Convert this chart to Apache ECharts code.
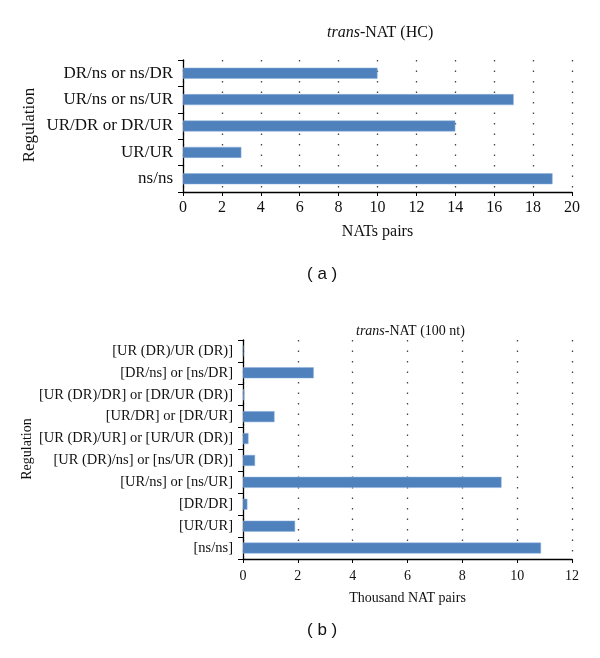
<!DOCTYPE html>
<html>
<head>
<meta charset="utf-8">
<script src="https://cdn.jsdelivr.net/npm/echarts@6/dist/echarts.min.js"></script>
<style>html,body{margin:0;padding:0;background:#fff}#c{width:600px;height:658px}</style>
</head>
<body>
<div id="c"></div>
<script>
// Panel (a): categories bottom -> top
var catsA = ['ns/ns', 'UR/UR', 'UR/DR or DR/UR', 'UR/ns or ns/UR', 'DR/ns or ns/DR'];
var valsA = [19, 3, 14, 17, 10];
var ticksA = [0, 2, 4, 6, 8, 10, 12, 14, 16, 18, 20];

// Panel (b): categories bottom -> top
var catsB = ['[ns/ns]', '[UR/UR]', '[DR/DR]', '[UR/ns] or [ns/UR]', '[UR (DR)/ns] or [ns/UR (DR)]',
  '[UR (DR)/UR] or [UR/UR (DR)]', '[UR/DR] or [DR/UR]', '[UR (DR)/DR] or [DR/UR (DR)]',
  '[DR/ns] or [ns/DR]', '[UR (DR)/UR (DR)]'];
var valsB = [10.87, 1.9, 0.16, 9.43, 0.44, 0.2, 1.15, 0.05, 2.58, 0];
var ticksB = [0, 2, 4, 6, 8, 10, 12];

var SERIF = 'Liberation Serif';
var BLUE = '#4F81BD';
var chart = echarts.init(document.getElementById('c'), null, {renderer: 'canvas'});

function xAx(idx, max, interval, name, fs, gap, margin) {
  return {
    gridIndex: idx, type: 'value', min: 0, max: max, interval: interval,
    name: name, nameLocation: 'middle', nameGap: gap,
    nameTextStyle: {fontFamily: SERIF, fontSize: fs, color: '#111'},
    axisLine: {show: true, lineStyle: {color: '#000', width: 1.3}},
    axisTick: {show: true, length: 4, lineStyle: {color: '#000'}},
    axisLabel: {fontFamily: SERIF, fontSize: fs, color: '#111', margin: margin},
    splitLine: {show: true, lineStyle: {color: '#444', width: 1.3, type: [1.5, 9]}}
  };
}
function yAx(idx, cats, fs) {
  return {
    gridIndex: idx, type: 'category', data: cats,
    axisLine: {show: true, lineStyle: {color: '#000', width: 1.3}},
    axisTick: {show: true, length: 5, lineStyle: {color: '#000'}},
    axisLabel: {fontFamily: SERIF, fontSize: fs, color: '#111', margin: 10},
    splitLine: {show: false}
  };
}

var option = {
  backgroundColor: '#fff',
  animation: false,
  title: [
    {text: '{i|trans}-NAT (HC)', left: 322, top: 20,
     textStyle: {fontFamily: SERIF, fontSize: 16, fontWeight: 'normal', color: '#111',
       rich: {i: {fontFamily: SERIF, fontSize: 16, fontStyle: 'italic', color: '#111'}}}},
    {text: '{i|trans}-NAT (100 nt)', left: 351, top: 319,
     textStyle: {fontFamily: SERIF, fontSize: 14, fontWeight: 'normal', color: '#111',
       rich: {i: {fontFamily: SERIF, fontSize: 14, fontStyle: 'italic', color: '#111'}}}}
  ],
  grid: [
    {left: 183, top: 60, width: 389, height: 132},
    {left: 243, top: 340, width: 329, height: 219}
  ],
  xAxis: [
    xAx(0, 20, 2, 'NATs pairs', 16, 32, 8),
    xAx(1, 12, 2, 'Thousand NAT pairs', 14, 32, 10)
  ],
  yAxis: [
    yAx(0, catsA, 17),
    yAx(1, catsB, 14.5)
  ],
  series: [
    {type: 'bar', xAxisIndex: 0, yAxisIndex: 0, data: valsA, barWidth: 11,
     itemStyle: {color: BLUE, borderColor: '#8fb3e0', borderWidth: 0.5}},
    {type: 'bar', xAxisIndex: 1, yAxisIndex: 1, data: valsB, barWidth: 11,
     itemStyle: {color: BLUE, borderColor: '#8fb3e0', borderWidth: 0.5}}
  ],
  graphic: [
    {type: 'text', x: 30, y: 125, rotation: Math.PI / 2,
     style: {text: 'Regulation', font: '17px "Liberation Serif"', fill: '#111', align: 'center', verticalAlign: 'middle'}},
    {type: 'text', x: 27, y: 449, rotation: Math.PI / 2,
     style: {text: 'Regulation', font: '14px "Liberation Serif"', fill: '#111', align: 'center', verticalAlign: 'middle'}},
    {type: 'text', left: 307, top: 266,
     style: {text: '( a )', font: '17px "Liberation Sans"', fill: '#111'}},
    {type: 'text', left: 307, top: 622,
     style: {text: '( b )', font: '17px "Liberation Sans"', fill: '#111'}}
  ]
};
chart.setOption(option);
</script>
</body>
</html>
